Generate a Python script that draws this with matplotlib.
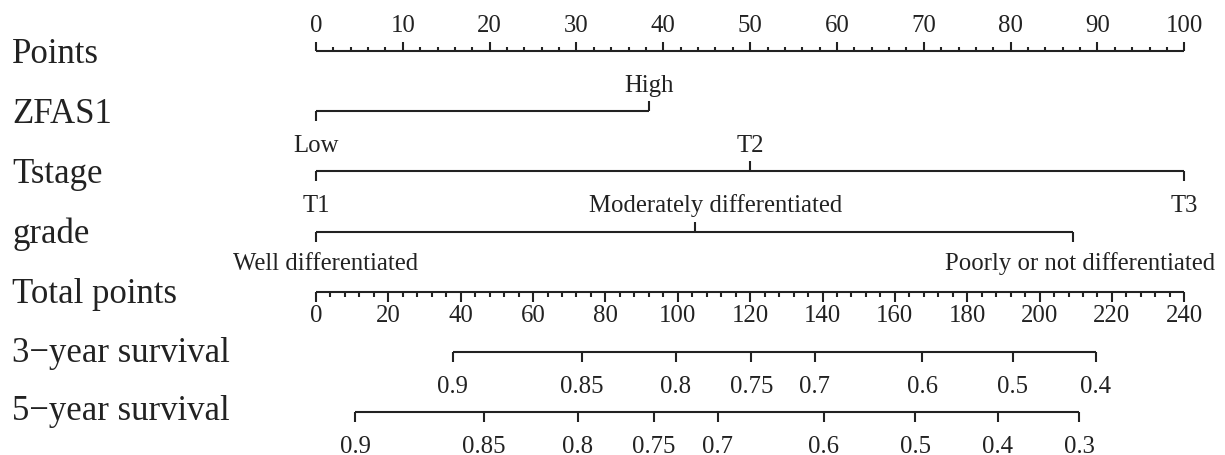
import matplotlib
matplotlib.use("Agg")
import matplotlib.pyplot as plt
import numpy as np

# ---------------- data ----------------
points_ticks = [0, 10, 20, 30, 40, 50, 60, 70, 80, 90, 100]
zfas1_labels = ["Low", "High"]
zfas1_points = [0, 38.4]
tstage_labels = ["T1", "T2", "T3"]
tstage_points = [0, 50, 100]
grade_labels = ["Well differentiated", "Moderately differentiated",
                "Poorly or not differentiated"]
grade_points = [0, 43.6, 87.2]
total_ticks = [0, 20, 40, 60, 80, 100, 120, 140, 160, 180, 200, 220, 240]
surv3_labels = ["0.9", "0.85", "0.8", "0.75", "0.7", "0.6", "0.5", "0.4"]
surv3_total = [37.8, 73.4, 99.4, 120.3, 137.9, 167.6, 192.6, 215.5]
surv5_labels = ["0.9", "0.85", "0.8", "0.75", "0.7", "0.6", "0.5", "0.4", "0.3"]
surv5_total = [10.8, 46.4, 72.4, 93.3, 111.0, 140.4, 165.6, 188.4, 210.9]
row_names = ["Points", "ZFAS1", "Tstage", "grade", "Total points",
             "3\u2212year survival", "5\u2212year survival"]

# ---------------- layout ----------------
W, H = 1225, 456
x0px, x100px = 316, 1184.3
ppp = (x100px - x0px) / 100.0
max_total = 240.0
row_y = [52, 112, 172, 233, 293, 353, 413]
name_baseline = [63, 123, 183, 243, 303, 362, 420]
grade_label_shift_px = [10, 21, 7]   # text placement offsets (pixels)

plt.rcParams['font.family'] = ['Liberation Serif', 'DejaVu Serif']
col = '#222222'
lw = 1.5
fs_name = 25
fs_tick = 17.8

fig = plt.figure(figsize=(W / 100, H / 100), dpi=100)
ax = fig.add_axes([0, 0, 1, 1])
ax.set_xlim(-x0px / ppp, (W - x0px) / ppp)
ax.set_ylim(H, 0)
ax.axis('off')


def tp(v):
    return np.asarray(v, dtype=float) * 100.0 / max_total


def hline(x1, x2, y):
    ax.plot([x1, x2], [y, y], color=col, lw=lw, solid_capstyle='butt')


def tick(x, y, length):
    ax.plot([x, x], [y, y + length], color=col, lw=lw, solid_capstyle='butt')


# row names
for name, yb in zip(row_names, name_baseline):
    ax.text((12 - x0px) / ppp, yb, name, fontsize=fs_name, color=col,
            ha='left', va='baseline')

# Points axis
y = row_y[0]
hline(0, 100, y)
for v in np.arange(0, 101, 2):
    tick(v, y, -9 if v % 10 == 0 else -4)
for v in points_ticks:
    ax.text(v, 32, str(v), fontsize=fs_tick, color=col, ha='center', va='baseline')

# categorical rows
def cat_row(labels, pts, y, up_base, down_base, shifts=None):
    if shifts is None:
        shifts = [0] * len(labels)
    hline(min(pts), max(pts), y)
    for i, (lab, p, s) in enumerate(zip(labels, pts, shifts)):
        xt = p + s / ppp
        if i % 2 == 1:
            tick(p, y, -10)
            ax.text(xt, up_base, lab, fontsize=fs_tick, color=col, ha='center', va='baseline')
        else:
            tick(p, y, 10)
            ax.text(xt, down_base, lab, fontsize=fs_tick, color=col, ha='center', va='baseline')

cat_row(zfas1_labels, zfas1_points, row_y[1], 92, 152)
cat_row(tstage_labels, tstage_points, row_y[2], 152, 212)
cat_row(grade_labels, grade_points, row_y[3], 212, 270, grade_label_shift_px)

# Total points axis
y = row_y[4]
hline(0, 100, y)
for v in np.arange(0, 241, 4):
    tick(tp(v), y, 10 if v % 20 == 0 else 5)
for v in total_ticks:
    ax.text(tp(v), 322, str(v), fontsize=fs_tick, color=col, ha='center', va='baseline')

# survival axes
def surv_row(labels, totals, y, base):
    xs = tp(totals)
    hline(xs.min(), xs.max(), y)
    for lab, xv in zip(labels, xs):
        tick(xv, y, 10)
        ax.text(xv, base, lab, fontsize=fs_tick, color=col, ha='center', va='baseline')

surv_row(surv3_labels, surv3_total, row_y[5], 393)
surv_row(surv5_labels, surv5_total, row_y[6], 453)

fig.savefig("out.png", dpi=100, facecolor='white')
